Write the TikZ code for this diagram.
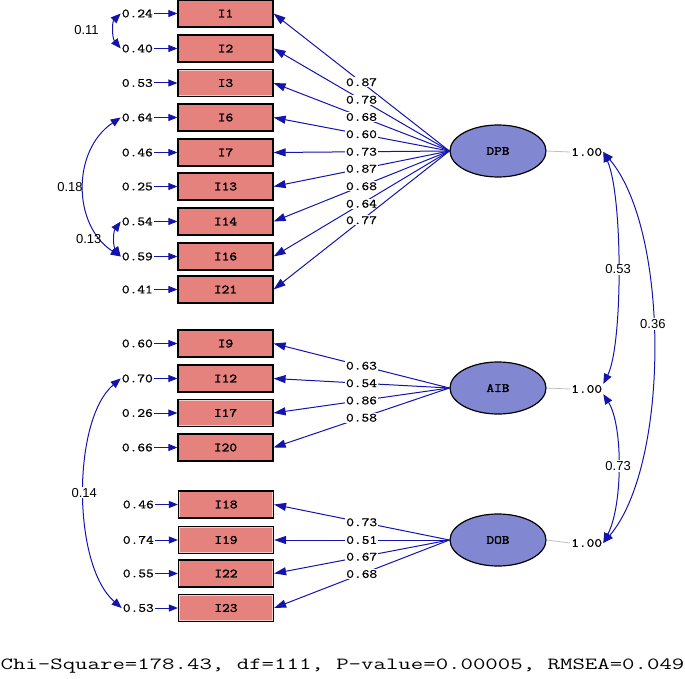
\documentclass[tikz,border=0pt]{standalone}
\usepackage{fontspec}
\usetikzlibrary{arrows.meta,shapes.geometric}
\newfontfamily\lismono[FakeStretch=1.2,FakeBold=1]{Latin Modern Mono}
\newfontfamily\lisbold[FakeStretch=1.2,FakeBold=2]{Latin Modern Mono}
\newfontfamily\fitmono[FakeStretch=1.42]{Latin Modern Mono}
\newfontfamily\lissans{Liberation Sans}
\definecolor{lisblue}{RGB}{20,20,170}
\definecolor{boxred}{RGB}{230,130,125}
\definecolor{boxline}{RGB}{245,205,200}
\definecolor{factorblue}{RGB}{130,135,210}

\begin{document}
\begin{tikzpicture}[x=1pt,y=-1pt,
    item/.style={draw=black,line width=1.2,fill=boxred,minimum width=95,minimum height=27,inner sep=0,
      path picture={\draw[boxline,line width=2.8] (path picture bounding box.south west) rectangle (path picture bounding box.north east);},
      font=\lisbold\fontsize{12.5pt}{12.5pt}\selectfont},
    factor/.style={ellipse,draw=black,line width=1.2,fill=factorblue,minimum width=96,minimum height=52,inner sep=0,
      font=\lisbold\fontsize{12.5pt}{12.5pt}\selectfont},
    val/.style={inner sep=1,text=black,font=\lismono\fontsize{12.5pt}{12.5pt}\selectfont},
    err/.style={val,anchor=east},
    loadlab/.style={val,fill=white,pos=0.5},
    load/.style={lisblue,line width=1,-{Triangle[length=12pt,width=8pt]}},
    errarrow/.style={lisblue,line width=1,-{Triangle[length=9pt,width=7pt]}},
    varline/.style={gray!50,line width=0.8},
    covar/.style={lisblue,line width=1,{Triangle[length=10pt,width=8pt]}-{Triangle[length=10pt,width=8pt]}},
    covlab/.style={inner sep=1,text=black,font=\lissans\fontsize{13pt}{13pt}\selectfont}]
  \useasboundingbox (0,0) rectangle (685,679);

  % latent factors
  \node [factor] (DPB) at (498,151) {DPB};
  \node [factor] (AIB) at (498,388) {AIB};
  \node [factor] (DOB) at (498,540) {DOB};

  % factor variances
  \node [val,anchor=west] (vDPB) at (570,152) {1.00};
  \node [val,anchor=west] (vAIB) at (570,389) {1.00};
  \node [val,anchor=west] (vDOB) at (570,543) {1.00};
  \draw [varline] (DPB.east) -- (vDPB.west);
  \draw [varline] (AIB.east) -- (vAIB.west);
  \draw [varline] (DOB.east) -- (vDOB.west);

  % DPB items
  \node [item] (I1) at (225.5,13.5) {I1};
  \node [err] (e1) at (154,13.5) {0.24};
  \draw [errarrow] (e1) -- (I1);
  \draw [load] (DPB.west) -- node [loadlab] {0.87} (I1.east);
  \node [item] (I2) at (225.5,48.5) {I2};
  \node [err] (e2) at (154,48.5) {0.40};
  \draw [errarrow] (e2) -- (I2);
  \draw [load] (DPB.west) -- node [loadlab] {0.78} (I2.east);
  \node [item] (I3) at (225.5,83) {I3};
  \node [err] (e3) at (154,83) {0.53};
  \draw [errarrow] (e3) -- (I3);
  \draw [load] (DPB.west) -- node [loadlab] {0.68} (I3.east);
  \node [item] (I6) at (225.5,117.5) {I6};
  \node [err] (e6) at (154,117.5) {0.64};
  \draw [errarrow] (e6) -- (I6);
  \draw [load] (DPB.west) -- node [loadlab] {0.60} (I6.east);
  \node [item] (I7) at (225.5,152.5) {I7};
  \node [err] (e7) at (154,152.5) {0.46};
  \draw [errarrow] (e7) -- (I7);
  \draw [load] (DPB.west) -- node [loadlab] {0.73} (I7.east);
  \node [item] (I13) at (225.5,186.5) {I13};
  \node [err] (e13) at (154,186.5) {0.25};
  \draw [errarrow] (e13) -- (I13);
  \draw [load] (DPB.west) -- node [loadlab] {0.87} (I13.east);
  \node [item] (I14) at (225.5,221.5) {I14};
  \node [err] (e14) at (154,221.5) {0.54};
  \draw [errarrow] (e14) -- (I14);
  \draw [load] (DPB.west) -- node [loadlab] {0.68} (I14.east);
  \node [item] (I16) at (225.5,256.5) {I16};
  \node [err] (e16) at (154,256.5) {0.59};
  \draw [errarrow] (e16) -- (I16);
  \draw [load] (DPB.west) -- node [loadlab] {0.64} (I16.east);
  \node [item] (I21) at (225.5,289.5) {I21};
  \node [err] (e21) at (154,289.5) {0.41};
  \draw [errarrow] (e21) -- (I21);
  \draw [load] (DPB.west) -- node [loadlab] {0.77} (I21.east);

  % AIB items
  \node [item] (I9) at (225.5,343.5) {I9};
  \node [err] (e9) at (154,343.5) {0.60};
  \draw [errarrow] (e9) -- (I9);
  \draw [load] (AIB.west) -- node [loadlab] {0.63} (I9.east);
  \node [item] (I12) at (225.5,378.5) {I12};
  \node [err] (e12) at (154,378.5) {0.70};
  \draw [errarrow] (e12) -- (I12);
  \draw [load] (AIB.west) -- node [loadlab] {0.54} (I12.east);
  \node [item] (I17) at (225.5,413) {I17};
  \node [err] (e17) at (154,413) {0.26};
  \draw [errarrow] (e17) -- (I17);
  \draw [load] (AIB.west) -- node [loadlab] {0.86} (I17.east);
  \node [item] (I20) at (225.5,447.5) {I20};
  \node [err] (e20) at (154,447.5) {0.66};
  \draw [errarrow] (e20) -- (I20);
  \draw [load] (AIB.west) -- node [loadlab] {0.58} (I20.east);

  % DOB items
  \node [item] (I18) at (226,504.5) {I18};
  \node [err] (e18) at (155,504.5) {0.46};
  \draw [errarrow] (e18) -- (I18);
  \draw [load] (DOB.west) -- node [loadlab] {0.73} (I18.east);
  \node [item] (I19) at (226,540) {I19};
  \node [err] (e19) at (155,540) {0.74};
  \draw [errarrow] (e19) -- (I19);
  \draw [load] (DOB.west) -- node [loadlab] {0.51} (I19.east);
  \node [item] (I22) at (226,573.5) {I22};
  \node [err] (e22) at (155,573.5) {0.55};
  \draw [errarrow] (e22) -- (I22);
  \draw [load] (DOB.west) -- node [loadlab] {0.67} (I22.east);
  \node [item] (I23) at (226,608) {I23};
  \node [err] (e23) at (155,608) {0.53};
  \draw [errarrow] (e23) -- (I23);
  \draw [load] (DOB.west) -- node [loadlab] {0.68} (I23.east);

  % error covariances
  \draw [covar] (e1.west) .. controls (112,22) and (112,38) .. node [covlab,left=14pt] {0.11} (e2.west);
  \draw [covar] (e6.west) .. controls (72,150) and (72,225) .. node [covlab,left=0pt] {0.18} (e16.west);
  \draw [covar] (e14.west) .. controls (113,232) and (113,246) .. node [covlab,left=12pt] {0.13} (e16.west);
  \draw [covar] (e12.west) .. controls (72,420) and (72,565) .. node [covlab,fill=white] {0.14} (e23.west);

  % factor covariances
  \draw [covar] (vDPB.east) .. controls (623,195) and (623,345) .. node [covlab,fill=white] {0.53} (vAIB.north east);
  \draw [covar] (vAIB.south east) .. controls (623,425) and (623,505) .. node [covlab,fill=white] {0.73} (vDOB.east);
  \draw [covar] (vDPB.east) .. controls (670,230) and (670,465) .. node [covlab,fill=white,pos=0.45] {0.36} (vDOB.east);

  % fit statistics
  \node [font=\fitmono\fontsize{17pt}{17pt}\selectfont,inner sep=0] (fit) at (342.5,666)
    {Chi-Square=178.43, df=111, P-value=0.00005, RMSEA=0.049};
\end{tikzpicture}
\end{document}
